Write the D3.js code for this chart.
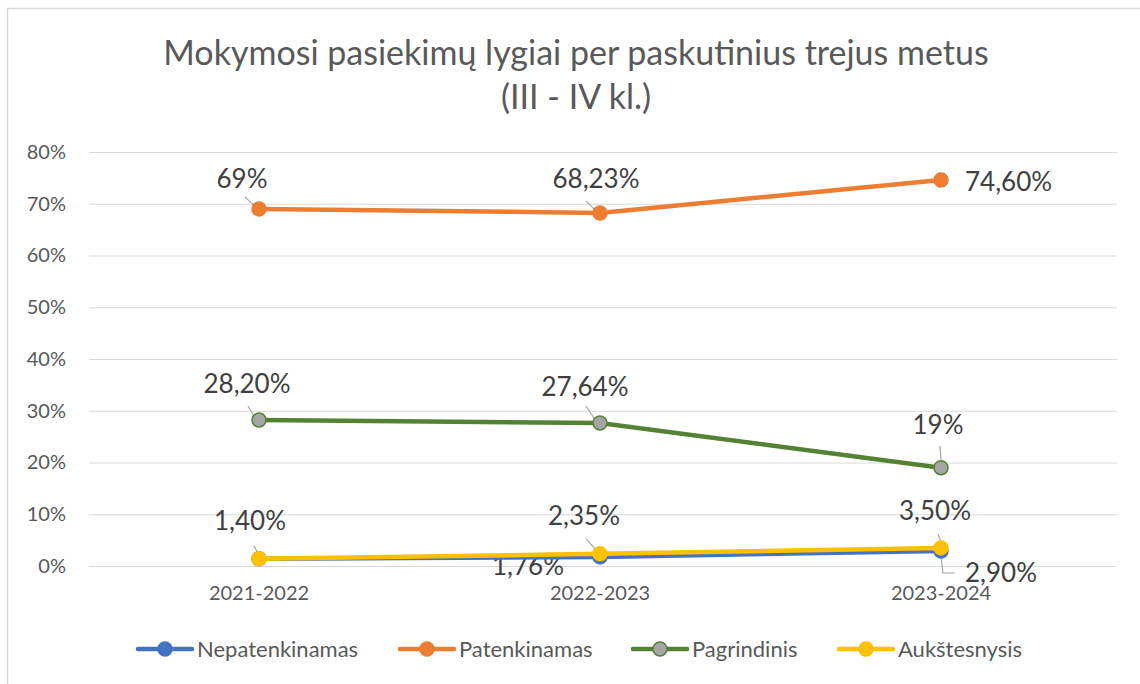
<!DOCTYPE html>
<html>
<head>
<meta charset="utf-8">
<script src="https://cdn.jsdelivr.net/npm/d3@7"></script>
<style>
  body { margin: 0; background: #fff; }
  svg text { font-family: Lato, "Liberation Sans", sans-serif; }
</style>
</head>
<body>
<div id="chart"></div>
<script>
// Chart data
var years = ["2021-2022", "2022-2023", "2023-2024"];
var nepatenkinamas = [1.40, 1.76, 2.90];
var patenkinamas = [69, 68.23, 74.60];
var pagrindinis = [28.20, 27.64, 19];
var aukstesnysis = [1.40, 2.35, 3.50];
var yTicks = [0, 10, 20, 30, 40, 50, 60, 70, 80];
var labelsNep = [null, "1,76%", "2,90%"];
var labelsPat = ["69%", "68,23%", "74,60%"];
var labelsPag = ["28,20%", "27,64%", "19%"];
var labelsAuk = ["1,40%", "2,35%", "3,50%"];

// Label placement (offset from the point) and leader lines
var labelPos = {
    nep: [null, { dx: -72, dy: 18, anchor: "middle", leader: [[-28, 0], [-3, 0]] },
          { dx: 24, dy: 31, anchor: "start", leader: [[0, 5], [2, 22], [14, 22]] }],
    pat: [{ dx: -17, dy: -21, anchor: "middle", leader: [[-14, -12], [-4, -2]] },
          { dx: -4, dy: -25, anchor: "middle", leader: [[-14, -12], [-4, -2]] },
          { dx: 24, dy: 11, anchor: "start" }],
    pag: [{ dx: -12, dy: -27, anchor: "middle", leader: [[-11, -14], [-4, -2]] },
          { dx: -15, dy: -27, anchor: "middle", leader: [[-14, -17], [-4, -2]] },
          { dx: -3, dy: -34, anchor: "middle", leader: [[-1, -22], [0, -8]] }],
    auk: [{ dx: -9, dy: -29, anchor: "middle", leader: [[-5, -13], [0, -4]] },
          { dx: -16, dy: -29, anchor: "middle", leader: [[-14, -15], [-4, -4]] },
          { dx: -6, dy: -28, anchor: "middle", leader: [[-3, -14], [0, -6]] }]
};

var series = [
    { key: "nep", name: "Nepatenkinamas", values: nepatenkinamas, labels: labelsNep, color: "#4472C4", fill: "#4472C4" },
    { key: "pat", name: "Patenkinamas", values: patenkinamas, labels: labelsPat, color: "#ED7D31", fill: "#ED7D31" },
    { key: "pag", name: "Pagrindinis", values: pagrindinis, labels: labelsPag, color: "#548235", fill: "#A5A5A5" },
    { key: "auk", name: "Aukštesnysis", values: aukstesnysis, labels: labelsAuk, color: "#FFC000", fill: "#FFC000" }
];

var width = 1140, height = 684;
var svg = d3.select("#chart").append("svg")
    .attr("width", width)
    .attr("height", height);

svg.append("rect").attr("width", width).attr("height", height).attr("fill", "#fff");

// chart border
svg.append("rect")
    .attr("x", 7.5).attr("y", 8.5)
    .attr("width", 1150).attr("height", 700)
    .attr("fill", "none")
    .attr("stroke", "#D9D9D9")
    .attr("stroke-width", 1.5);

// Title
var title = svg.append("text")
    .attr("text-anchor", "middle")
    .attr("fill", "#595959")
    .attr("font-size", 34);
title.append("tspan").attr("x", 576).attr("y", 65).text("Mokymosi pasiekimų lygiai per paskutinius trejus metus");
title.append("tspan").attr("x", 576).attr("y", 109).text("(III - IV kl.)");

var x = d3.scaleBand().domain(years).range([88.5, 1111.5]);
var y = d3.scaleLinear().domain([0, 80]).range([566, 152]);
var cx = d => x(d) + x.bandwidth() / 2;

// gridlines
svg.append("g")
    .selectAll("line")
    .data(yTicks)
    .enter().append("line")
    .attr("x1", 89).attr("x2", 1117)
    .attr("y1", d => y(d) + 0.5).attr("y2", d => y(d) + 0.5)
    .attr("stroke", "#D9D9D9")
    .attr("stroke-width", 1);

// y axis
var yAxis = svg.append("g")
    .attr("transform", "translate(66,0)")
    .call(d3.axisLeft(y).tickValues(yTicks).tickSize(0).tickPadding(0).tickFormat(d => d + "%"));
yAxis.select(".domain").remove();
yAxis.selectAll("text").attr("font-size", 20).attr("fill", "#595959").attr("font-family", "Lato, sans-serif");

// x axis
var xAxis = svg.append("g")
    .attr("transform", "translate(0,582)")
    .call(d3.axisBottom(x).tickSize(0).tickPadding(4));
xAxis.select(".domain").remove();
xAxis.selectAll("text").attr("font-size", 20).attr("fill", "#595959").attr("font-family", "Lato, sans-serif");

var line = d3.line()
    .x((d, i) => cx(years[i]))
    .y(d => y(d));

// leader lines and labels layer
var leaders = svg.append("g");
var labels = svg.append("g");

series.forEach(s => {
    svg.append("path")
        .datum(s.values)
        .attr("d", line)
        .attr("fill", "none")
        .attr("stroke", s.color)
        .attr("stroke-width", 4.5)
        .attr("stroke-linecap", "round");

    svg.append("g")
        .selectAll("circle")
        .data(s.values)
        .enter().append("circle")
        .attr("cx", (d, i) => cx(years[i]))
        .attr("cy", d => y(d))
        .attr("r", 7)
        .attr("fill", s.fill)
        .attr("stroke", s.color)
        .attr("stroke-width", 1.5);

    s.values.forEach((v, i) => {
        var p = labelPos[s.key][i];
        if (!s.labels[i] || !p) return;
        var px = cx(years[i]), py = y(v);
        if (p.leader) {
            leaders.append("path")
                .attr("d", d3.line()(p.leader.map(o => [px + o[0], py + o[1]])))
                .attr("fill", "none")
                .attr("stroke", "#A6A6A6")
                .attr("stroke-width", 1.2);
        }
        labels.append("text")
            .attr("x", px + p.dx)
            .attr("y", py + p.dy)
            .attr("text-anchor", p.anchor)
            .attr("font-size", 26)
            .attr("fill", "#404040")
            .text(s.labels[i]);
    });
});

// Legend
var legendX = [138, 400, 633, 839];
var legend = svg.append("g");
series.forEach((s, i) => {
    var g = legend.append("g").attr("transform", "translate(" + legendX[i] + ",649)");
    g.append("line").attr("x1", 0).attr("x2", 54)
        .attr("stroke", s.color).attr("stroke-width", 4.5).attr("stroke-linecap", "round");
    g.append("circle").attr("cx", 27).attr("r", 7)
        .attr("fill", s.fill).attr("stroke", s.color).attr("stroke-width", 1.5);
    g.append("text").attr("x", 59).attr("y", 7.5)
        .attr("font-size", 22).attr("fill", "#595959")
        .text(s.name);
});
</script>
</body>
</html>
